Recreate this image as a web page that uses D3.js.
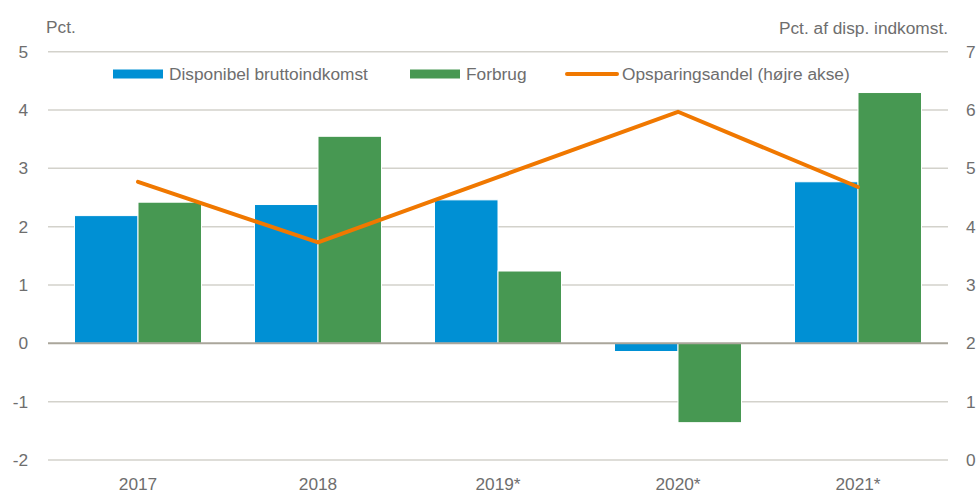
<!DOCTYPE html>
<html><head><meta charset="utf-8">
<script src="https://cdn.jsdelivr.net/npm/d3@7"></script>
<style>body{margin:0;background:#fff}svg{display:block}text{font-family:"Liberation Sans",Arial,sans-serif;fill:#6e6e6e}</style>
</head><body><svg id="c" width="977" height="494"></svg>
<script>
const categories = ["2017","2018","2019*","2020*","2021*"];
const disponibel = [2.19, 2.38, 2.46, -0.14, 2.77];
const forbrug = [2.42, 3.55, 1.24, -1.36, 4.30];
const opsparing = [4.77, 3.73, 4.85, 5.97, 4.68];
const leftTicks = [-2,-1,0,1,2,3,4,5];
const rightTicks = [0,1,2,3,4,5,6,7];
const seriesNames = ["Disponibel bruttoindkomst","Forbrug","Opsparingsandel (højre akse)"];
const colors = {blue:"#0090d4", green:"#479852", orange:"#f07800"};

const svg = d3.select("#c");
const L = 48, R = 948, T = 51.7, B = 460;
const fs = "17.3px";
const x = d3.scaleBand().domain(categories).range([L,R]);
const yl = d3.scaleLinear().domain([-2,5]).range([B,T]);
const yr = d3.scaleLinear().domain([0,7]).range([B,T]);

// gridlines
svg.append("g").selectAll("line").data(leftTicks.filter(d=>d!==0)).join("line")
  .attr("x1",L).attr("x2",R).attr("y1",d=>yl(d)).attr("y2",d=>yl(d))
  .attr("stroke","#d3d2cb").attr("stroke-width",1.5);

// left axis labels
svg.append("g").selectAll("text").data(leftTicks).join("text")
  .attr("x",28).attr("y",d=>yl(d)).attr("dy","0.35em").attr("text-anchor","end")
  .style("font-size",fs).text(d=>d);
// right axis labels
svg.append("g").selectAll("text").data(rightTicks).join("text")
  .attr("x",966).attr("y",d=>yr(d)).attr("dy","0.35em").attr("text-anchor","start")
  .style("font-size",fs).text(d=>d);

// bars
const groupW = 127, bw = groupW/2;
const bars = svg.append("g");
bars.selectAll("rect.b").data(categories).join("rect").attr("class","b")
  .attr("x",d=>x(d)+x.bandwidth()/2-groupW/2)
  .attr("width",bw)
  .attr("y",(d,i)=>yl(Math.max(0,disponibel[i])))
  .attr("height",(d,i)=>Math.abs(yl(disponibel[i])-yl(0)))
  .attr("fill",colors.blue).attr("stroke","#fff").attr("stroke-width",1);
bars.selectAll("rect.g").data(categories).join("rect").attr("class","g")
  .attr("x",d=>x(d)+x.bandwidth()/2)
  .attr("width",bw)
  .attr("y",(d,i)=>yl(Math.max(0,forbrug[i])))
  .attr("height",(d,i)=>Math.abs(yl(forbrug[i])-yl(0)))
  .attr("fill",colors.green).attr("stroke","#fff").attr("stroke-width",1);

// zero line
svg.append("line").attr("x1",L).attr("x2",R).attr("y1",yl(0)).attr("y2",yl(0))
  .attr("stroke","#aaa69b").attr("stroke-width",2);

// line
const line = d3.line().x((d,i)=>x(categories[i])+x.bandwidth()/2).y(d=>yr(d));
svg.append("path").datum(opsparing).attr("d",line).attr("fill","none")
  .attr("stroke",colors.orange).attr("stroke-width",4).attr("stroke-linejoin","round").attr("stroke-linecap","round");

// x labels
svg.append("g").selectAll("text").data(categories).join("text")
  .attr("x",d=>x(d)+x.bandwidth()/2).attr("y",490).attr("text-anchor","middle")
  .style("font-size",fs).text(d=>d);

// axis titles
svg.append("text").attr("x",46).attr("y",33).style("font-size",fs).text("Pct.");
svg.append("text").attr("x",948).attr("y",34).attr("text-anchor","end").style("font-size",fs).text("Pct. af disp. indkomst.");

// legend
const lg = svg.append("g");
lg.append("rect").attr("x",113).attr("y",69.5).attr("width",50).attr("height",9).attr("fill",colors.blue);
lg.append("text").attr("x",169).attr("y",80).style("font-size",fs).text(seriesNames[0]);
lg.append("rect").attr("x",410).attr("y",69.5).attr("width",50).attr("height",9).attr("fill",colors.green);
lg.append("text").attr("x",466).attr("y",80).style("font-size",fs).text(seriesNames[1]);
lg.append("line").attr("x1",567).attr("x2",617).attr("y1",74).attr("y2",74)
  .attr("stroke",colors.orange).attr("stroke-width",4).attr("stroke-linecap","round");
lg.append("text").attr("x",622).attr("y",80).style("font-size",fs).text(seriesNames[2]);
</script></body></html>
